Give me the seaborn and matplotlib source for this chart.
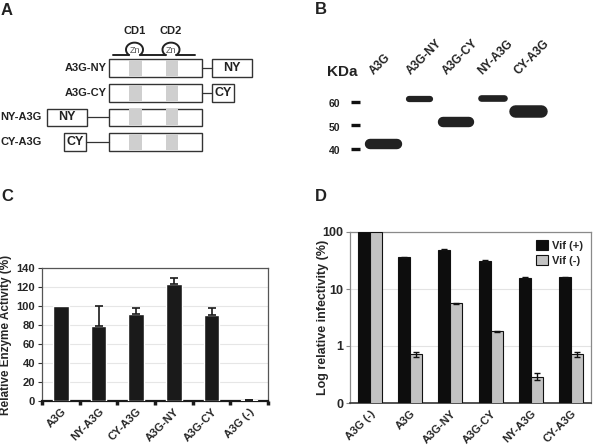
import numpy as np
import pandas as pd
import matplotlib
matplotlib.use("Agg")
import matplotlib.pyplot as plt
from matplotlib.patches import Rectangle, Arc, Patch
import seaborn as sns

# ---------------- data ----------------
# Panel C: relative enzyme activity
c_labels = ["A3G", "NY-A3G", "CY-A3G", "A3G-NY", "A3G-CY", "A3G (-)"]
c_values = [100, 79, 92, 123, 91, 1]
c_err_up = [0, 21, 6, 6, 7, 0.5]

# Panel D: log relative infectivity
d_labels = ["A3G (-)", "A3G", "A3G-NY", "A3G-CY", "NY-A3G", "CY-A3G"]
d_vif_pos = [100, 36, 48.5, 31, 15.8, 16.2]
d_vif_neg = [100, 0.72, 5.6, 1.8, 0.29, 0.72]
d_err_pos = [0, 0.8, 1.0, 0.8, 0.3, 0.3]
d_err_neg = [0, 0.07, 0.08, 0.04, 0.04, 0.07]
d_hues = ["Vif (+)", "Vif (-)"]

# Panel B: western blot
b_lanes = ["A3G", "A3G-NY", "A3G-CY", "NY-A3G", "CY-A3G"]
b_band_kda = [42.1, 61.0, 51.5, 61.7, 56.1]
b_band_width = [0.91, 0.75, 0.88, 0.80, 0.88]
b_band_thick = [7.5, 4.5, 7.5, 4.8, 9.0]
b_markers = [60, 50, 40]

# Panel A: constructs
a_constructs = ["A3G-NY", "A3G-CY", "NY-A3G", "CY-A3G"]
a_tags = ["NY", "CY", "NY", "CY"]
a_domains = ["CD1", "CD2"]

# ---------------- style ----------------
sns.set_theme(style="white")
plt.rcParams["font.family"] = ["Liberation Sans", "DejaVu Sans"]
plt.rcParams["font.weight"] = "bold"

fig = plt.figure(figsize=(6.0, 4.46), dpi=100)
W, H = 600, 446

def ax_px(l, t, r, b):
    return fig.add_axes([l / W, (H - b) / H, (r - l) / W, (b - t) / H])

# ---------------- Panel A ----------------
axA = ax_px(0, 0, 300, 170)
axA.set_xlim(0, 300)
axA.set_ylim(170, 0)
axA.axis("off")
ec = "#333333"
rows_y = [(59, 77), (84, 101.5), (108.5, 126), (133, 150.5)]
tag_x = [(212, 252), (212, 234), (47, 87), (64, 86)]
main_x = (109, 202)
stripes = [(129, 142), (166, 178)]
for name, tag, (yt, yb), (tx0, tx1) in zip(a_constructs, a_tags, rows_y, tag_x):
    axA.add_patch(Rectangle((main_x[0], yt), main_x[1] - main_x[0], yb - yt,
                            facecolor="white", edgecolor=ec, lw=1.0, zorder=2))
    for s0, s1 in stripes:
        axA.add_patch(Rectangle((s0, yt + 0.6), s1 - s0, yb - yt - 1.2,
                                facecolor="#cfcfcf", edgecolor="none", zorder=3))
    axA.add_patch(Rectangle((tx0, yt), tx1 - tx0, yb - yt,
                            facecolor="white", edgecolor=ec, lw=1.0, zorder=2))
    ym = (yt + yb) / 2
    if tx0 > main_x[1]:
        axA.plot([main_x[1], tx0], [ym, ym], color=ec, lw=0.9)
        lx = 107
    else:
        axA.plot([tx1, main_x[0]], [ym, ym], color=ec, lw=0.9)
        lx = 42
    axA.text((tx0 + tx1) / 2, ym, tag, ha="center", va="center",
             fontsize=9, fontweight="bold", color="#222")
    axA.text(lx, ym, name, ha="right", va="center", fontsize=8,
             fontweight="bold", color="#222")
# zinc finger line
cxs = [134.5, 171]
rx, ry = 8.5, 7.0
by = 55
foot = rx * np.cos(np.radians(50))
cy_loop = by - ry * np.sin(np.radians(50))
axA.plot([113, cxs[0] - foot], [by, by], color="#222", lw=1.4)
axA.plot([cxs[0] + foot, cxs[1] - foot], [by, by], color="#222", lw=1.4)
axA.plot([cxs[1] + foot, 195], [by, by], color="#222", lw=1.4)
for cx, dname in zip(cxs, a_domains):
    axA.add_patch(Arc((cx, cy_loop), 2 * rx, 2 * ry, theta1=130, theta2=410,
                      color="#222", lw=1.4))
    axA.text(cx, cy_loop + 0.5, "Zn", ha="center", va="center", fontsize=6.5,
             fontweight="normal", color="#555")
    axA.text(cx, 31, dname, ha="center", va="center", fontsize=8,
             fontweight="bold", color="#222")

# ---------------- Panel B ----------------
axB = ax_px(300, 60, 600, 170)
px_per_lane = 36.2
x0 = 383.5
axB.set_xlim((300 - x0) / px_per_lane, (600 - x0) / px_per_lane)
k_per_px = 1 / 2.365
axB.set_ylim(60 + (101.7 - 170) * k_per_px, 60 + (101.7 - 60) * k_per_px)
axB.axis("off")
for i, (kda, w, th) in enumerate(zip(b_band_kda, b_band_width, b_band_thick)):
    half = w / 2 - 0.08
    axB.plot([i - half, i + half], [kda, kda], color="#161616", lw=th,
             solid_capstyle="round", alpha=0.95)
for i, lane in enumerate(b_lanes):
    axB.text(i - 0.2, 70.4, lane, rotation=45, rotation_mode="anchor",
             ha="left", va="bottom", fontsize=8.5, fontweight="bold", color="#222")
for m in b_markers:
    axB.plot([-0.9, -0.66], [m, m], color="#111", lw=2.4, solid_capstyle="butt")
    axB.text(-1.2, m - 1.0, str(m), ha="right", va="center", fontsize=7.5,
             fontweight="bold", color="#222")
axB.text(-1.55, 72.6, "KDa", ha="left", va="center", fontsize=11,
         fontweight="bold", color="#222")

# ---------------- Panel C ----------------
axC = ax_px(42, 268, 268, 401)
dfC = pd.DataFrame({"construct": c_labels, "activity": c_values})
sns.barplot(data=dfC, x="construct", y="activity", color="#1a1a1a",
            width=0.42, saturation=1, ax=axC, errorbar=None, zorder=3)
c_idx = [i for i, e in enumerate(c_err_up) if e > 0]
axC.errorbar(c_idx, [c_values[i] for i in c_idx],
             yerr=[np.zeros(len(c_idx)), [c_err_up[i] for i in c_idx]],
             fmt="none", ecolor="#1a1a1a", elinewidth=1.2, capsize=3,
             capthick=1.2, zorder=4)
axC.set_ylim(0, 140)
axC.set_xlim(-0.5, 5.5)
axC.set_yticks(np.arange(0, 141, 20))
axC.yaxis.grid(True, color="#e6e6e6", lw=0.8)
axC.set_axisbelow(True)
axC.tick_params(axis="y", labelsize=8, length=3, width=0.8, pad=2,
                color="#333", left=True)
axC.set_xticks(np.arange(len(c_labels)))
axC.set_xticklabels(c_labels, rotation=45, ha="right", rotation_mode="anchor",
                    fontsize=8, fontweight="bold")
axC.tick_params(axis="x", which="major", length=0, pad=4)
axC.set_xticks(np.arange(-0.5, 6.0, 1.0), minor=True)
axC.tick_params(axis="x", which="minor", direction="out", length=3, width=2.5,
                color="#1a1a1a", bottom=True)
for lab in axC.get_yticklabels():
    lab.set_fontweight("bold")
axC.set_xlabel("")
axC.set_ylabel("Relative Enzyme Activity (%)", fontsize=8.5, fontweight="bold")
axC.yaxis.set_label_coords((12 - 42) / 226, 0.5)
for s in ["top", "right", "left"]:
    axC.spines[s].set_color("#555555")
    axC.spines[s].set_linewidth(0.9)
axC.spines["bottom"].set_color("#1a1a1a")
axC.spines["bottom"].set_linewidth(1.6)

# ---------------- Panel D ----------------
axD = ax_px(350, 232, 591, 403)
dfD = pd.DataFrame({
    "construct": d_labels * 2,
    "infectivity": d_vif_pos + d_vif_neg,
    "vif": [d_hues[0]] * len(d_labels) + [d_hues[1]] * len(d_labels),
})
pal = {d_hues[0]: "#0d0d0d", d_hues[1]: "#c2c2c2"}
sns.barplot(data=dfD, x="construct", y="infectivity", hue="vif", palette=pal,
            width=0.6, saturation=1, edgecolor="#111", linewidth=0.8,
            errorbar=None, ax=axD, zorder=3)
axD.set_yscale("log")
xs = np.arange(len(d_labels))
pi = [i for i, e in enumerate(d_err_pos) if e > 0]
ni = [i for i, e in enumerate(d_err_neg) if e > 0]
axD.errorbar(xs[pi] - 0.15, [d_vif_pos[i] for i in pi],
             yerr=[d_err_pos[i] for i in pi], fmt="none", ecolor="#111",
             elinewidth=1.0, capsize=2.5, zorder=4)
axD.errorbar(xs[ni] + 0.15, [d_vif_neg[i] for i in ni],
             yerr=[d_err_neg[i] for i in ni], fmt="none", ecolor="#111",
             elinewidth=1.0, capsize=2.5, zorder=4)
axD.set_ylim(0.1, 100)
axD.set_xlim(-0.5, 5.5)
axD.set_yticks([0.1, 1, 10, 100])
axD.set_yticklabels(["0", "1", "10", "100"], fontsize=9, fontweight="bold")
axD.yaxis.set_minor_locator(matplotlib.ticker.NullLocator())
axD.yaxis.grid(True, color="#e3e3e3", lw=0.8)
axD.set_axisbelow(True)
axD.tick_params(axis="y", length=3, width=0.8, color="#888", pad=2, left=True)
axD.set_xticks(xs)
axD.set_xticklabels(d_labels, rotation=45, ha="right", rotation_mode="anchor",
                    fontsize=8, fontweight="bold")
axD.tick_params(axis="x", length=0, pad=4)
axD.set_xlabel("")
axD.set_ylabel("Log relative infectivity (%)", fontsize=9, fontweight="bold")
axD.yaxis.set_label_coords((329 - 350) / 241, 0.5)
for s in ["top", "right", "left"]:
    axD.spines[s].set_color("#8a8a8a")
    axD.spines[s].set_linewidth(0.9)
axD.spines["bottom"].set_color("#333")
axD.spines["bottom"].set_linewidth(1.2)
if axD.get_legend() is not None:
    axD.get_legend().remove()
handles = [Patch(facecolor=pal[h], edgecolor="#111", lw=0.8) for h in d_hues]
leg = axD.legend(handles, d_hues, loc="upper right", frameon=False,
                 handlelength=1.1, handleheight=1.1, handletextpad=0.4,
                 labelspacing=0.35, borderaxespad=0.3,
                 prop={"size": 8, "weight": "bold"})

# ---------------- panel letters ----------------
for letter, (lx, ly) in zip("ABCD", [(1, 3), (315, 2), (1, 189), (315, 189)]):
    fig.text(lx / W, 1 - ly / H, letter, ha="left", va="top", fontsize=12,
             fontweight="bold", color="#222")

fig.savefig("out.png", dpi=100)
